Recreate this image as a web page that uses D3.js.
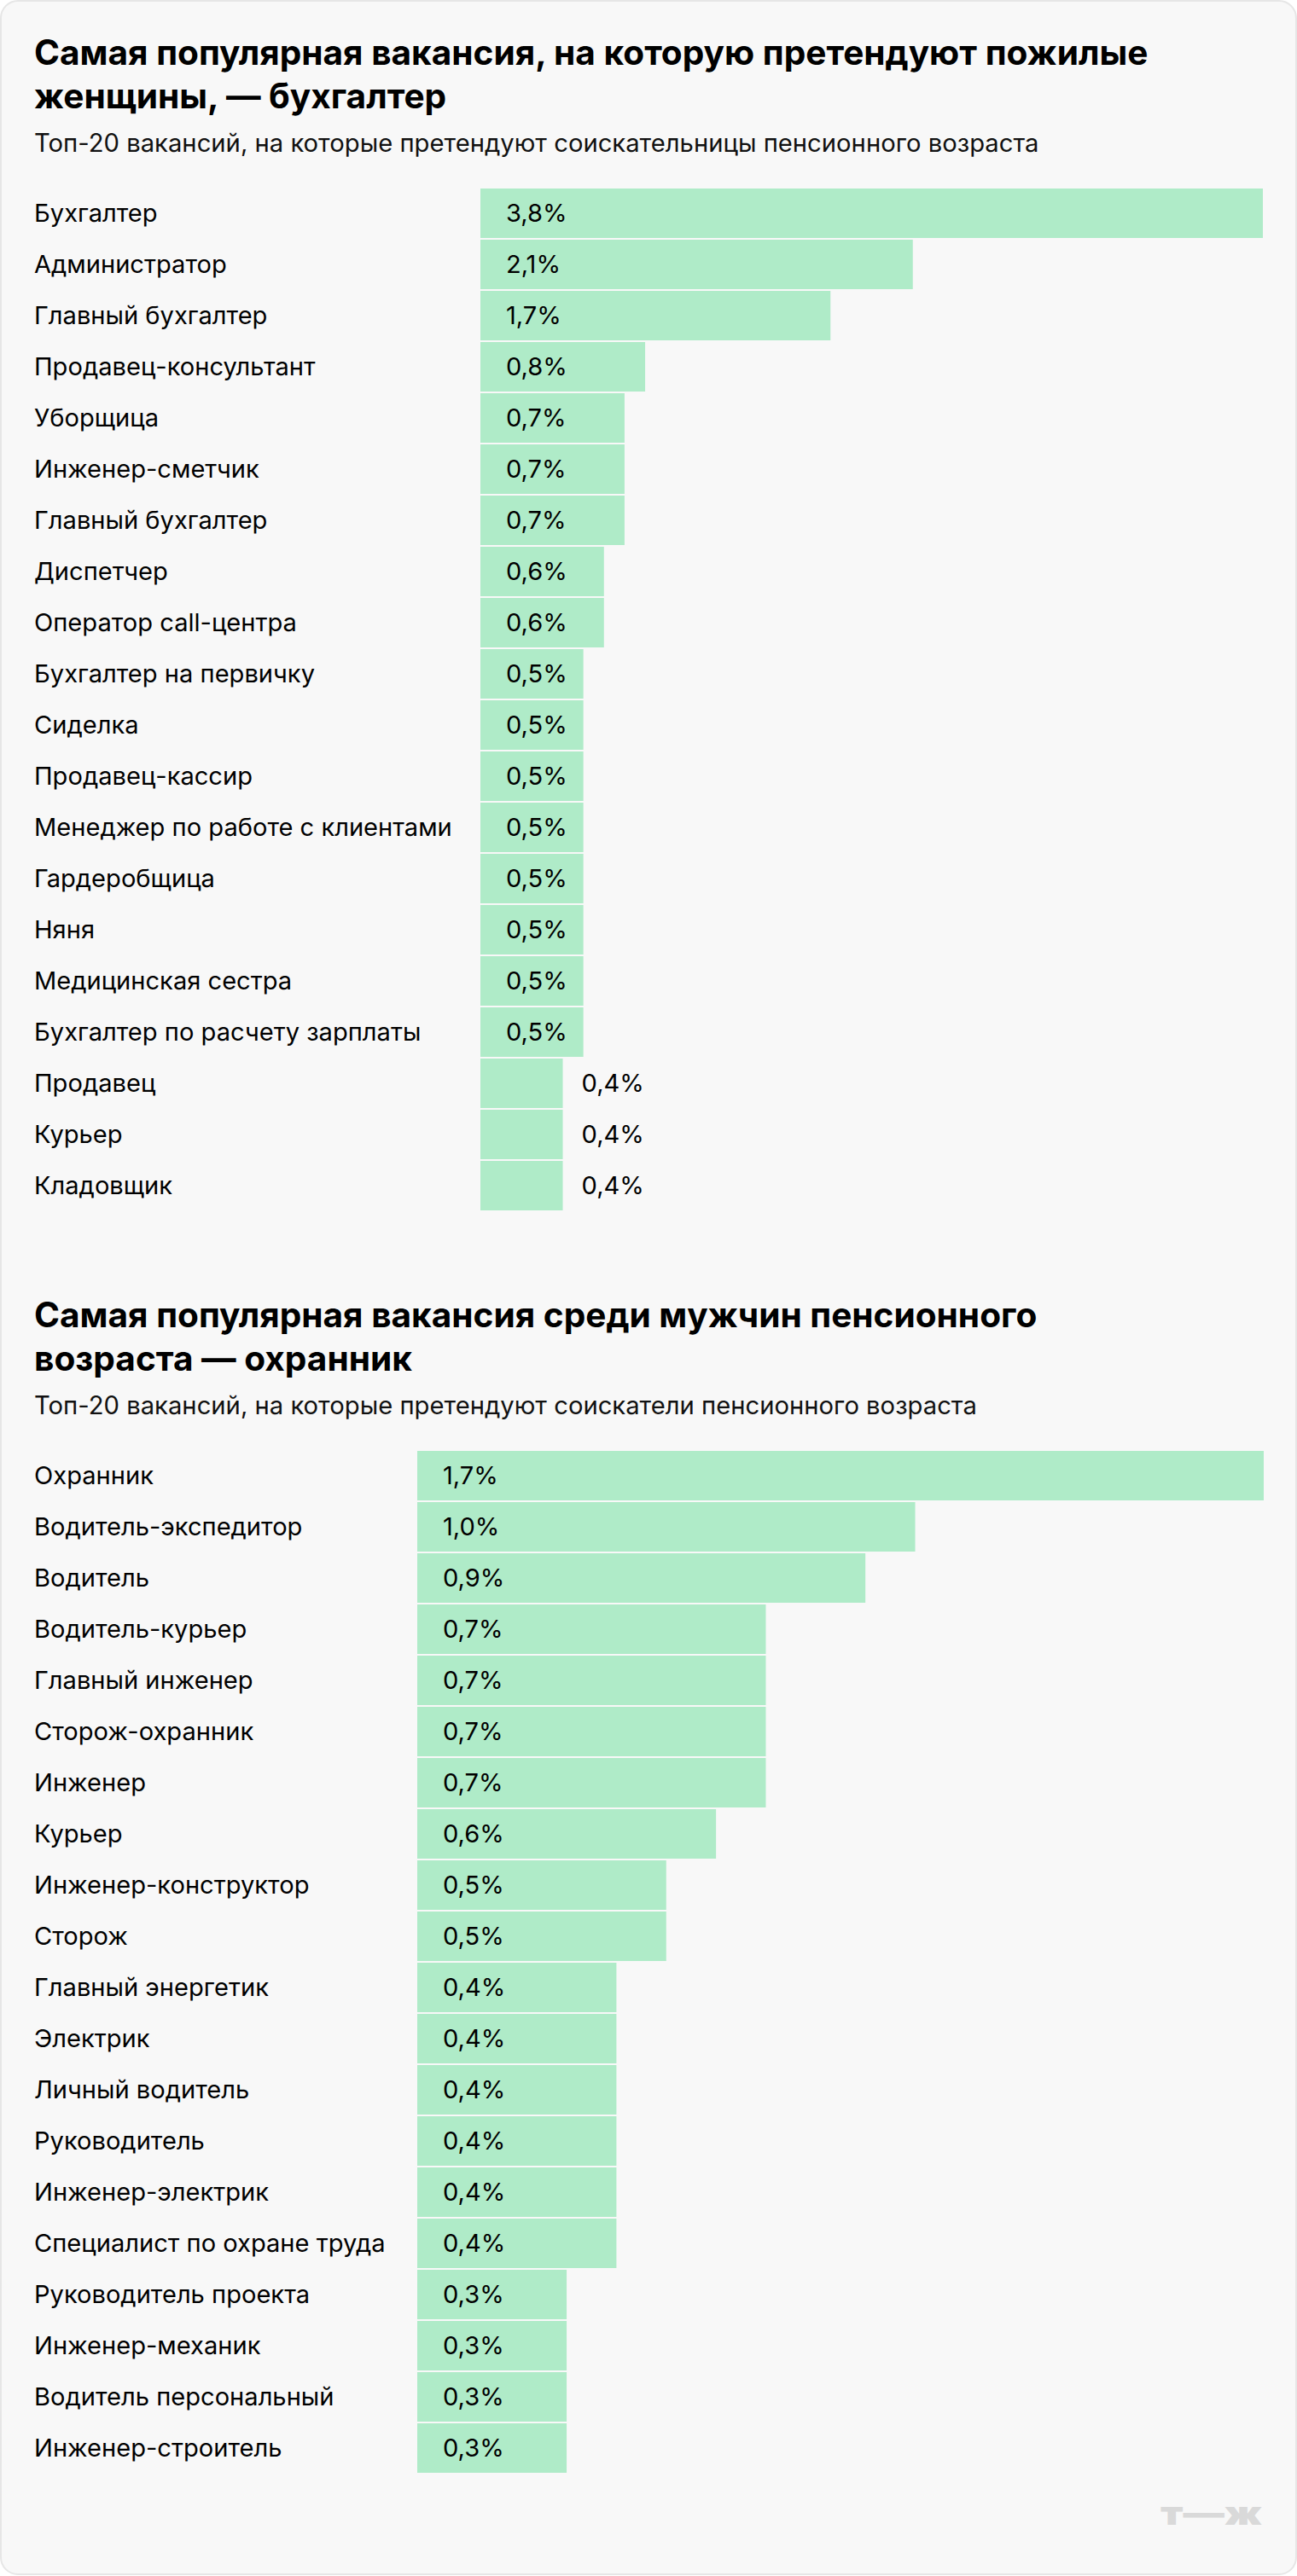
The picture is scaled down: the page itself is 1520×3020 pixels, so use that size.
<!DOCTYPE html>
<html>
<head>
<meta charset="utf-8">
<script src="https://cdn.jsdelivr.net/npm/d3@7"></script>
<style>
  html, body { margin: 0; padding: 0; background: #ffffff; }
  svg { display: block; }
  text { font-family: Inter, Roboto, "Noto Sans", sans-serif; }
</style>
</head>
<body>
<svg id="chart" width="1520" height="3020"></svg>
<script>
// ---------- DATA ----------
const womenTitle = ["Самая популярная вакансия, на которую претендуют пожилые", "женщины, — бухгалтер"];
const womenSubtitle = "Топ-20 вакансий, на которые претендуют соискательницы пенсионного возраста";
const womenJobs = ["Бухгалтер", "Администратор", "Главный бухгалтер", "Продавец-консультант", "Уборщица",
  "Инженер-сметчик", "Главный бухгалтер", "Диспетчер", "Оператор call-центра", "Бухгалтер на первичку",
  "Сиделка", "Продавец-кассир", "Менеджер по работе с клиентами", "Гардеробщица", "Няня",
  "Медицинская сестра", "Бухгалтер по расчету зарплаты", "Продавец", "Курьер", "Кладовщик"];
const womenShares = [3.8, 2.1, 1.7, 0.8, 0.7, 0.7, 0.7, 0.6, 0.6, 0.5, 0.5, 0.5, 0.5, 0.5, 0.5, 0.5, 0.5, 0.4, 0.4, 0.4];

const menTitle = ["Самая популярная вакансия среди мужчин пенсионного", "возраста — охранник"];
const menSubtitle = "Топ-20 вакансий, на которые претендуют соискатели пенсионного возраста";
const menJobs = ["Охранник", "Водитель-экспедитор", "Водитель", "Водитель-курьер", "Главный инженер",
  "Сторож-охранник", "Инженер", "Курьер", "Инженер-конструктор", "Сторож",
  "Главный энергетик", "Электрик", "Личный водитель", "Руководитель", "Инженер-электрик",
  "Специалист по охране труда", "Руководитель проекта", "Инженер-механик", "Водитель персональный", "Инженер-строитель"];
const menShares = [1.7, 1.0, 0.9, 0.7, 0.7, 0.7, 0.7, 0.6, 0.5, 0.5, 0.4, 0.4, 0.4, 0.4, 0.4, 0.4, 0.3, 0.3, 0.3, 0.3];

const logoText = "т—ж";

// ---------- DRAW ----------
const svg = d3.select("#chart");
const ru = d3.formatLocale({decimal: ",", thousands: "\u00a0", grouping: [3], currency: ["", " ₽"]});
const fmt = v => ru.format(".1f")(v) + "%";

// font size that makes a string reach a target width
function fitSize(str, weight, target) {
  const t = svg.append("text").attr("font-size", 100).attr("font-weight", weight).text(str);
  const w = t.node().getComputedTextLength();
  t.remove();
  return 100 * target / w;
}
const titleSize = fitSize(womenTitle[0], 700, 1306);
const subSize = fitSize(womenSubtitle, 400, 1178);
const labelSize = fitSize("Менеджер по работе с клиентами", 400, 490);

svg.append("rect")
  .attr("x", 1).attr("y", 1).attr("width", 1518).attr("height", 3017)
  .attr("rx", 20).attr("ry", 20)
  .attr("fill", "#f8f8f8").attr("stroke", "#e6e6e6").attr("stroke-width", 2);

function drawPanel(cfg) {
  const g = svg.append("g");
  g.append("text")
    .attr("x", 40).attr("y", cfg.titleY)
    .attr("font-size", titleSize).attr("font-weight", 700).attr("fill", "#000")
    .selectAll("tspan").data(cfg.title).join("tspan")
    .attr("x", 40).attr("dy", (d, i) => i === 0 ? 0 : 51)
    .text(d => d);
  g.append("text")
    .attr("x", 40).attr("y", cfg.subY)
    .attr("font-size", subSize).attr("fill", "#111")
    .text(cfg.subtitle);

  const idx = d3.range(cfg.jobs.length);
  const y = d3.scaleBand().domain(idx).range(cfg.yRange).paddingInner(2 / 60);
  const x = d3.scaleLinear().domain([0, d3.max(cfg.values)]).range(cfg.xRange);

  const rows = g.selectAll("g.row").data(idx).join("g").attr("class", "row");
  rows.append("text")
    .attr("x", 40)
    .attr("y", i => y(i) + y.bandwidth() / 2)
    .attr("dy", "0.36em")
    .attr("font-size", labelSize).attr("fill", "#000")
    .text(i => cfg.jobs[i]);
  rows.append("rect")
    .attr("x", x(0))
    .attr("y", i => y(i))
    .attr("width", i => x(cfg.values[i]) - x(0))
    .attr("height", y.bandwidth())
    .attr("fill", "#afebc8");
  rows.append("text")
    .attr("x", i => (x(cfg.values[i]) - x(0) > 100) ? x(0) + 30 : x(cfg.values[i]) + 22)
    .attr("y", i => y(i) + y.bandwidth() / 2)
    .attr("dy", "0.36em")
    .attr("font-size", labelSize).attr("fill", "#000")
    .text(i => fmt(cfg.values[i]));
}

drawPanel({title: womenTitle, subtitle: womenSubtitle, jobs: womenJobs, values: womenShares,
  titleY: 76, subY: 178, yRange: [221, 1419], xRange: [563, 1480]});
drawPanel({title: menTitle, subtitle: menSubtitle, jobs: menJobs, values: menShares,
  titleY: 1556, subY: 1658, yRange: [1701, 2899], xRange: [489, 1481]});

svg.append("text")
  .attr("x", 1360).attr("y", 2960)
  .attr("font-size", 38).attr("font-weight", 900).attr("fill", "#d9d9d9")
  .attr("textLength", 119).attr("lengthAdjust", "spacingAndGlyphs")
  .text(logoText);
</script>
</body>
</html>
